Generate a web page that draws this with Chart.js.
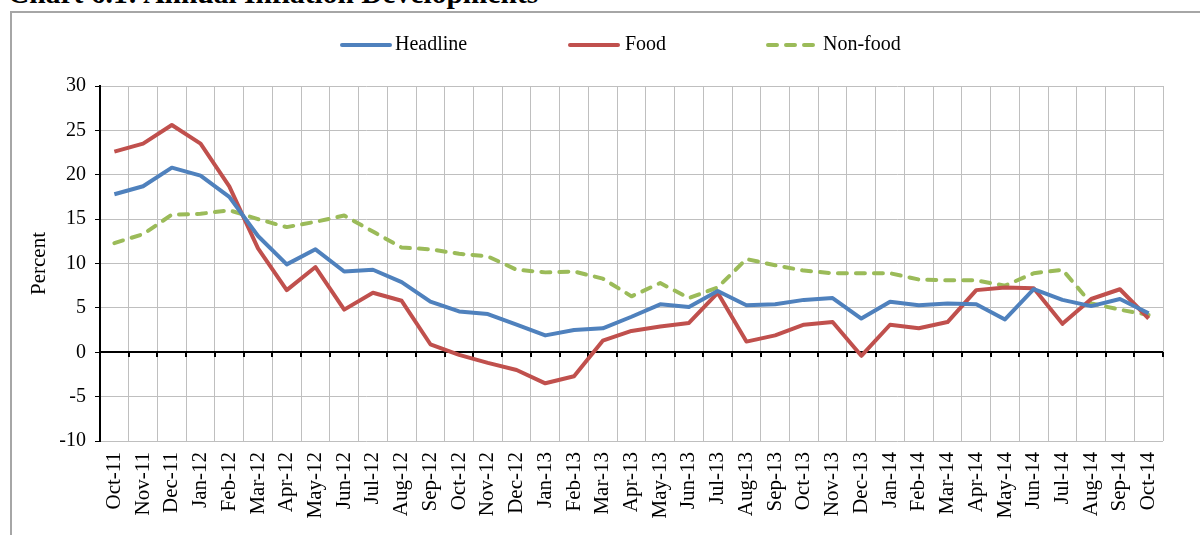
<!DOCTYPE html>
<html>
<head>
<meta charset="utf-8">
<title>Annual Inflation Developments</title>
<script src="https://cdn.jsdelivr.net/npm/chart.js@4/dist/chart.umd.min.js"></script>
<style>
    html, body { margin: 0; padding: 0; background: #fff; overflow: hidden; }
    #title {
        position: absolute; left: 8px; top: -21px;
        font: bold 29.5px/29px "Liberation Serif", "Times New Roman", serif;
        color: #000; white-space: nowrap;
    }
    #frame {
        position: absolute; left: 10px; top: 11px; width: 1200px; height: 540px;
        border: 2px solid #a6a6a6; box-sizing: border-box;
    }
    #wrap { position: absolute; left: 0; top: 0; width: 1200px; height: 535px; }
</style>
</head>
<body>
<div id="title">Chart 6.1: Annual Inflation Developments</div>
<div id="frame"></div>
<div id="wrap"><canvas id="inflationChart"></canvas></div>
<script>
(function() {
    'use strict';

    const months = [
        'Oct-11', 'Nov-11', 'Dec-11', 'Jan-12', 'Feb-12', 'Mar-12', 'Apr-12', 'May-12', 'Jun-12',
        'Jul-12', 'Aug-12', 'Sep-12', 'Oct-12', 'Nov-12', 'Dec-12', 'Jan-13', 'Feb-13', 'Mar-13',
        'Apr-13', 'May-13', 'Jun-13', 'Jul-13', 'Aug-13', 'Sep-13', 'Oct-13', 'Nov-13', 'Dec-13',
        'Jan-14', 'Feb-14', 'Mar-14', 'Apr-14', 'May-14', 'Jun-14', 'Jul-14', 'Aug-14', 'Sep-14', 'Oct-14'
    ];

    const headline = [17.8, 18.7, 20.8, 19.9, 17.5, 13.1, 9.9, 11.6, 9.1, 9.3, 7.9, 5.7, 4.6, 4.3, 3.1,
        1.9, 2.5, 2.7, 4.0, 5.4, 5.1, 6.9, 5.3, 5.4, 5.9, 6.1, 3.8, 5.7, 5.3, 5.5, 5.4, 3.7, 7.1, 5.9, 5.2, 6.0, 4.4];

    const food = [22.6, 23.5, 25.6, 23.5, 18.7, 11.7, 7.0, 9.6, 4.8, 6.7, 5.8, 0.9, -0.3, -1.2, -2.0,
        -3.5, -2.7, 1.3, 2.4, 2.9, 3.3, 6.7, 1.2, 1.9, 3.1, 3.4, -0.4, 3.1, 2.7, 3.4, 7.0, 7.3, 7.2, 3.2, 6.0, 7.1, 3.8];

    const nonFood = [12.3, 13.3, 15.5, 15.6, 16.0, 15.0, 14.1, 14.7, 15.4, 13.6, 11.8, 11.6, 11.1, 10.8, 9.3,
        9.0, 9.1, 8.3, 6.3, 7.8, 6.1, 7.3, 10.5, 9.8, 9.2, 8.9, 8.9, 8.9, 8.2, 8.1, 8.1, 7.5, 8.9, 9.3, 5.5, 4.8, 4.2];

    const yTicks = [-10, -5, 0, 5, 10, 15, 20, 25, 30];

    const FONT = '"Liberation Serif", "Times New Roman", serif';
    const GRID = '#bfbfbf';

    // legend entries sit at fixed spots above the plot, like the Excel original
    const legendSpots = [
        { line: [342, 390], text: 395 },
        { line: [570, 618], text: 625 },
        { line: [768, 815], text: 823 }
    ];

    const legendPlugin = {
        id: 'spotLegend',
        afterDraw(chart) {
            const ctx = chart.ctx;
            const y = 45;
            ctx.save();
            chart.data.datasets.forEach((ds, i) => {
                const spot = legendSpots[i];
                ctx.strokeStyle = ds.borderColor;
                ctx.lineWidth = ds.borderWidth;
                ctx.lineCap = 'round';
                ctx.setLineDash(ds.borderDash || []);
                ctx.beginPath();
                ctx.moveTo(spot.line[0], y);
                ctx.lineTo(spot.line[1], y);
                ctx.stroke();
                ctx.setLineDash([]);
                ctx.fillStyle = '#000';
                ctx.font = '20px ' + FONT;
                ctx.textBaseline = 'middle';
                ctx.textAlign = 'left';
                ctx.fillText(ds.label, spot.text, y);
            });
            ctx.restore();
        }
    };

    // black axis at zero with tick marks on the category boundaries
    const zeroAxisPlugin = {
        id: 'zeroAxis',
        beforeDatasetsDraw(chart) {
            const { ctx, chartArea } = chart;
            const y0 = Math.round(chart.scales.y.getPixelForValue(0));
            const step = (chartArea.right - chartArea.left) / months.length;
            ctx.save();
            ctx.strokeStyle = '#000';
            ctx.lineWidth = 2;
            ctx.beginPath();
            ctx.moveTo(chartArea.left, y0);
            ctx.lineTo(chartArea.right, y0);
            for (let i = 1; i <= months.length; i++) {
                const x = Math.round(chartArea.left + i * step);
                ctx.moveTo(x, y0);
                ctx.lineTo(x, y0 + 5);
            }
            ctx.stroke();
            ctx.restore();
        }
    };

    const ctx = document.getElementById('inflationChart');

    new Chart(ctx, {
        type: 'line',
        data: {
            labels: months,
            datasets: [{
                label: 'Headline',
                data: headline,
                borderColor: '#4f81bd',
                borderWidth: 4
            }, {
                label: 'Food',
                data: food,
                borderColor: '#c0504d',
                borderWidth: 4
            }, {
                label: 'Non-food',
                data: nonFood,
                borderColor: '#9bbb59',
                borderWidth: 4,
                borderDash: [9, 9],
                borderCapStyle: 'round'
            }]
        },
        options: {
            responsive: true,
            maintainAspectRatio: false,
            animation: false,
            layout: { padding: { left: 0, top: 86, right: 37, bottom: 0 } },
            elements: {
                point: { radius: 0, hoverRadius: 0 },
                line: { tension: 0, fill: false, borderJoinStyle: 'round' }
            },
            plugins: {
                legend: { display: false },
                tooltip: { enabled: false }
            },
            scales: {
                x: {
                    offset: true,
                    grid: { offset: true, color: GRID, lineWidth: 1, drawTicks: false },
                    border: { display: false },
                    ticks: {
                        autoSkip: false,
                        maxRotation: 90,
                        minRotation: 90,
                        padding: 11,
                        color: '#000',
                        font: { family: FONT, size: 21 }
                    },
                    afterFit(scale) { scale.height = 94; }
                },
                y: {
                    min: -10,
                    max: 30,
                    afterBuildTicks(scale) { scale.ticks = yTicks.map(v => ({ value: v })); },
                    grid: { color: GRID, lineWidth: 1, tickLength: 5, tickColor: '#000' },
                    border: { display: true, color: '#000', width: 2 },
                    ticks: {
                        padding: 9,
                        color: '#000',
                        font: { family: FONT, size: 20 }
                    },
                    title: {
                        display: true,
                        text: 'Percent',
                        color: '#000',
                        padding: { top: 27, bottom: 0 },
                        font: { family: FONT, size: 21 }
                    },
                    afterFit(scale) { scale.width = 100; }
                }
            }
        },
        plugins: [zeroAxisPlugin, legendPlugin]
    });
})();
</script>
</body>
</html>
